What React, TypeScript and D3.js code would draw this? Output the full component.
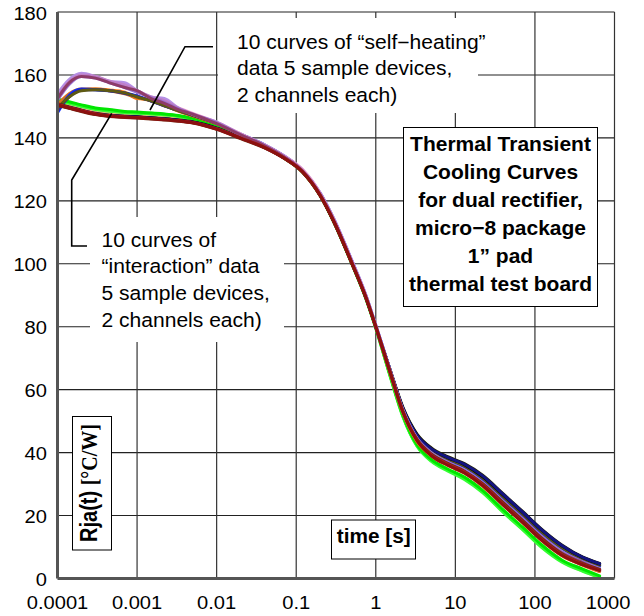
import * as d3 from "d3";

// time axis samples (s) shared by every curve
const TIMES = [1e-4, 1.4e-4, 2e-4, 3e-4, 4.5e-4, 7e-4, 1e-3, 1.5e-3, 2.2e-3, 3.3e-3, 5e-3, 1e-2, 2e-2, 4e-2, 0.07, 0.12, 0.2, 0.3, 0.5, 0.75, 1, 1.5, 2.2, 3.3, 5, 8, 13, 22, 40, 70, 120, 220, 400, 650];

// "self-heating" curves, Rja(t) in °C/W
const SH_LAVENDER = [154, 158.5, 160.5, 159.5, 158, 157.5, 155, 153, 152.5, 149.5, 147.5, 145, 141, 137.5, 134, 129.5, 122, 113.5, 101, 89.5, 80.5, 66.5, 53.5, 44.5, 39.5, 36.5, 34, 30, 24, 18.5, 13, 8, 5, 2.8];
const SH_MAROON = [152.5, 157.5, 159.5, 159, 157.5, 156, 155, 152.5, 151, 149, 147.5, 144.5, 141, 137.5, 134, 129.5, 122, 113.5, 100.5, 89.5, 80, 66, 53, 44, 39.5, 36.5, 34, 30, 24, 18.5, 13, 8, 5, 2.8];
const SH_BLUE = [148, 153.5, 155.5, 155.3, 155, 154.3, 153.3, 151.8, 150.3, 148.8, 147.3, 144.8, 141.2, 137.8, 134.3, 129.8, 122.5, 114, 101, 90, 80.5, 66.5, 53.5, 45, 40.5, 37.8, 35.5, 31.5, 25.5, 20, 14.5, 9.5, 6, 4];
const SH_ORANGE = [150, 153.5, 155.2, 155.5, 155.2, 154.5, 152.5, 152.2, 150.5, 148.5, 147, 144.5, 141, 137.5, 134, 129.5, 122, 113.5, 100.5, 89.5, 80, 65.5, 52.5, 43.5, 39, 36, 33.5, 29.5, 23.5, 17.8, 12.3, 7.3, 4.2, 2.2];
const SH_OLIVE = [149.5, 153, 155, 155.3, 155, 154.3, 153, 151.8, 150.3, 148.7, 147.2, 144.6, 141, 137.6, 134, 129.5, 122, 113.5, 100.5, 89.5, 80, 66, 53.5, 45, 40.7, 38, 35.8, 32, 26, 20.5, 15, 9.8, 6.3, 4.3];
const SH_PINK = [153.5, 158, 160, 159.3, 157.8, 156.5, 154.8, 152.8, 151.5, 149.5, 147.8, 145, 141.3, 137.8, 134.3, 130, 122.5, 114, 101, 90, 80.5, 66, 53, 44, 39.3, 36.3, 33.7, 29.7, 23.7, 18, 12.5, 7.5, 4.5, 2.5];
const SH_VIOLET = [152, 157, 159.5, 159, 157.5, 156, 154.5, 152.8, 151.3, 149.3, 147.5, 144.8, 141, 137.5, 134, 129.5, 122, 113.5, 100.5, 89.5, 80, 66, 53, 44.5, 40, 37, 34.5, 30.5, 24.5, 19, 13.5, 8.5, 5.3, 3.2];
const SH_SIENNA = [150.5, 154, 155.5, 155.5, 155, 154, 152.8, 151.8, 150.2, 148.6, 147, 144.5, 141, 137.5, 134, 129.5, 122, 113.5, 100.5, 89.5, 80, 65.8, 52.8, 43.8, 39, 36, 33.5, 29.3, 23.3, 17.7, 12.2, 7.2, 4.3, 2.3];
const SH_DARKBLUE = [148.5, 153, 155.3, 155.3, 155, 154.2, 153.2, 151.7, 150.2, 148.7, 147.2, 144.7, 141.2, 137.7, 134.2, 129.7, 122.3, 113.8, 100.8, 89.8, 80.3, 66.5, 53.8, 45.3, 40.8, 38, 35.7, 31.8, 25.8, 20.3, 14.8, 9.7, 6.2, 4.2];
const SH_PLUM = [153, 157.8, 160, 159.5, 158, 156.8, 155, 153, 151.8, 149.5, 147.6, 144.9, 141.1, 137.6, 134.1, 129.6, 122.1, 113.6, 100.6, 89.6, 80.1, 66, 53, 44.2, 39.6, 36.6, 34.1, 30.1, 24.1, 18.6, 13.1, 8.1, 5, 2.9];

// "interaction" curves
const IN_GREEN = [152.3, 151.5, 150.5, 149.5, 149, 148.4, 148.2, 147.9, 147.6, 147.1, 146.2, 143.8, 140.6, 137.3, 133.8, 129.3, 121.8, 113.2, 100.2, 89.2, 79.8, 65, 51.8, 42.5, 37.8, 34.8, 32.2, 28, 21.8, 16.3, 10.8, 5.8, 3, 0.8];
const IN_GREEN2 = [152, 151.2, 150.3, 149.3, 148.7, 148.2, 148, 147.8, 147.5, 147, 146, 143.6, 140.5, 137.2, 133.7, 129.2, 121.7, 113, 100, 89, 79.6, 64.8, 51.5, 42.2, 37.5, 34.5, 31.8, 27.6, 21.4, 15.8, 10.3, 5.5, 2.6, 0.5];
const IN_BLACK = [150.5, 149.6, 148.6, 147.6, 147, 146.8, 146.6, 146.3, 146, 145.6, 145, 143, 140, 137, 133.7, 129.3, 121.8, 113.2, 100.2, 89.3, 80, 66.4, 54, 45.6, 41.2, 38.4, 36.2, 32.4, 26.5, 21, 15.5, 10.3, 6.6, 4.6];
const IN_DARKOLIVE = [150.8, 149.8, 148.8, 147.8, 147.2, 146.9, 146.7, 146.4, 146.1, 145.7, 145.1, 143.1, 140.1, 137, 133.7, 129.3, 121.8, 113.3, 100.3, 89.4, 80.1, 66.6, 54.3, 45.9, 41.5, 38.7, 36.5, 32.8, 26.9, 21.3, 15.8, 10.6, 6.8, 4.8];
const IN_DARKRED = [150.5, 149.5, 148.5, 147.5, 146.9, 146.6, 146.4, 146.1, 145.8, 145.4, 144.8, 142.8, 139.9, 136.9, 133.6, 129.2, 121.7, 113.2, 100.2, 89.3, 80, 65.8, 52.8, 43.8, 39, 36, 33.5, 29.5, 23.3, 17.8, 12.3, 7.3, 4.3, 2.5];
const IN_TAN = [151.5, 150.6, 149.6, 148.6, 148, 147.6, 147.4, 147.1, 146.8, 146.4, 145.7, 143.5, 140.4, 137.2, 133.7, 129.2, 121.7, 113.1, 100.1, 89.1, 79.7, 64.9, 51.6, 42.3, 37.5, 34.5, 31.8, 27.5, 21.2, 15.6, 10.1, 5.3, 2.4, 0.2];
const IN_NAVY = [150.6, 149.7, 148.7, 147.7, 147.1, 146.8, 146.6, 146.3, 146, 145.6, 145, 143, 140, 137, 133.7, 129.3, 121.9, 113.4, 100.4, 89.5, 80.2, 66.5, 54, 45.5, 41.2, 38.5, 36.3, 32.6, 26.7, 21.1, 15.6, 10.4, 6.7, 4.7];
const IN_BROWN = [150.3, 149.4, 148.4, 147.4, 146.8, 146.5, 146.3, 146, 145.7, 145.3, 144.7, 142.7, 139.8, 136.8, 133.5, 129.1, 121.6, 113.1, 100.1, 89.2, 79.9, 65.9, 53, 44.2, 39.5, 36.6, 34.1, 30.1, 24, 18.4, 12.9, 7.8, 4.7, 2.9];
const IN_RED = [150.7, 149.7, 148.7, 147.7, 147.1, 146.7, 146.5, 146.2, 145.9, 145.5, 144.9, 142.9, 140, 137, 133.6, 129.2, 121.7, 113.2, 100.2, 89.3, 80, 65.9, 52.9, 44, 39.3, 36.3, 33.8, 29.8, 23.6, 18, 12.5, 7.5, 4.5, 2.6];
const IN_GREEN3 = [151.8, 151, 150, 149, 148.5, 148, 147.8, 147.6, 147.3, 146.8, 145.8, 143.5, 140.4, 137.1, 133.6, 129.1, 121.6, 113, 100, 89, 79.5, 64.6, 51.3, 42, 37.2, 34.2, 31.5, 27.3, 21, 15.5, 10, 5.2, 2.3, 0.4];

const X_TICKS = [1e-4, 1e-3, 1e-2, 0.1, 1, 10, 100, 1000];
const X_TICK_LABELS = ["0.0001", "0.001", "0.01", "0.1", "1", "10", "100", "1000"];
const Y_TICKS = [0, 20, 40, 60, 80, 100, 120, 140, 160, 180];

const SELF_HEATING_NOTE = ["10 curves of \u201cself\u2212heating\u201d", "data 5 sample devices,", "2 channels each)"];
const INTERACTION_NOTE = ["10 curves of", "\u201cinteraction\u201d data", "5 sample devices,", "2 channels each)"];
const TITLE_LINES = ["Thermal Transient", "Cooling Curves", "for dual rectifier,", "micro\u22128 package", "1\u201d pad", "thermal test board"];

// drawing order, back to front
const CURVES: [number[], string][] = [
  [IN_TAN, "#f2b98c"],
  [IN_GREEN2, "#22dd22"],
  [IN_GREEN3, "#33ff33"],
  [IN_GREEN, "#00e600"],
  [SH_ORANGE, "#ff7a10"],
  [SH_SIENNA, "#d8701e"],
  [SH_BLUE, "#1030ff"],
  [SH_DARKBLUE, "#2424a8"],
  [SH_OLIVE, "#5e5a12"],
  [IN_DARKOLIVE, "#2a2a00"],
  [IN_BLACK, "#000000"],
  [IN_NAVY, "#141480"],
  [SH_PINK, "#f0a0c8"],
  [SH_LAVENDER, "#b590e6"],
  [SH_PLUM, "#c080c8"],
  [SH_VIOLET, "#9a70d0"],
  [SH_MAROON, "#8e3b68"],
  [IN_BROWN, "#6e2a10"],
  [IN_RED, "#b01e1e"],
  [IN_DARKRED, "#8b1010"],
];

const SANS = "'Liberation Sans', Arial, Helvetica, sans-serif";
const SERIF = "'Liberation Serif', 'Times New Roman', serif";
const SX = 1.08;

const W = 644;
const H = 616;

function Txt({ x, y, anchor = "start", size, weight = "normal", sx = SX, children }: any) {
  return (
    <text
      transform={`translate(${x},${y}) scale(${sx},1)`}
      textAnchor={anchor}
      fontSize={size}
      fontWeight={weight}
      fontFamily={SANS}
      fill="#000"
    >
      {children}
    </text>
  );
}

const App = () => {
  const xScale = d3.scaleLog().domain([1e-4, 1e3]).range([57.5, 614.5]);
  const yScale = d3.scaleLinear().domain([0, 180]).range([578.5, 12]);

  const line = d3
    .line<number>()
    .x((_, i) => xScale(TIMES[i]))
    .y((v) => yScale(v))
    .curve(d3.curveMonotoneX);

  const x0 = xScale.range()[0];
  const x1 = xScale.range()[1];
  const yb = yScale(0);
  const yt = yScale(180);

  return (
    <div style={{ position: "absolute", left: 0, top: 0 }}>
      <svg width={W} height={H} style={{ display: "block", background: "#fff" }}>
        {/* grid */}
        {Y_TICKS.slice(1).map((v) => (
          <line key={"gy" + v} x1={x0} x2={x1} y1={yScale(v)} y2={yScale(v)} stroke="#222" strokeWidth={1.1} />
        ))}
        {X_TICKS.slice(1).map((t) => (
          <line key={"gx" + t} x1={xScale(t)} x2={xScale(t)} y1={yt} y2={yb} stroke="#333" strokeWidth={1.2} />
        ))}

        {/* curves */}
        {CURVES.map(([vals, color], i) => (
          <path
            key={"c" + i}
            d={line(vals) || ""}
            fill="none"
            stroke={color}
            strokeWidth={3}
            strokeLinejoin="round"
            strokeLinecap="round"
          />
        ))}

        {/* axes */}
        <line x1={x0} x2={x0} y1={yt} y2={yb} stroke="#555" strokeWidth={3} />
        <line x1={x0} x2={x1} y1={yb} y2={yb} stroke="#555" strokeWidth={3} />

        {/* tick labels */}
        {Y_TICKS.map((v) => (
          <Txt key={"yl" + v} x={47} y={yScale(v) + 7.5} anchor="end" size={19} sx={1.06}>
            {v}
          </Txt>
        ))}
        {X_TICKS.map((t, i) => (
          <Txt
            key={"xl" + t}
            x={i === X_TICKS.length - 1 ? xScale(t) + 16 : xScale(t)}
            y={609}
            anchor={i === X_TICKS.length - 1 ? "end" : "middle"}
            size={19}
            sx={1.06}
          >
            {X_TICK_LABELS[i]}
          </Txt>
        ))}

        {/* self-heating note */}
        <rect x={218} y={18} width={260} height={95} fill="#fff" />
        <polyline points="213,46.7 185,46.7 150,110" fill="none" stroke="#000" strokeWidth={1.6} />
        {SELF_HEATING_NOTE.map((s, i) => (
          <Txt key={"sh" + i} x={237} y={48.5 + i * 26.5} size={19.5}>
            {s}
          </Txt>
        ))}

        {/* interaction note */}
        <rect x={90} y={217} width={194} height={125} fill="#fff" />
        <polyline points="111.7,113.3 71.7,180 71.7,246 87,246" fill="none" stroke="#000" strokeWidth={1.6} />
        {INTERACTION_NOTE.map((s, i) => (
          <Txt key={"in" + i} x={101.5} y={246.5 + i * 26.7} size={19.5}>
            {s}
          </Txt>
        ))}

        {/* title box */}
        <rect x={403.5} y={127.5} width={194} height={179} fill="#fff" stroke="#000" strokeWidth={1} />
        {TITLE_LINES.map((s, i) => (
          <Txt key={"tt" + i} x={500.5} y={151 + i * 28} anchor="middle" size={20} weight="bold" sx={1.05}>
            {s}
          </Txt>
        ))}

        {/* y label */}
        <rect x={72.5} y={416.5} width={39} height={133.5} fill="#fff" stroke="#000" strokeWidth={1} />
        <text
          transform="translate(97,483) rotate(-90) scale(1,1.15)"
          textAnchor="middle"
          fontSize={20}
          fontWeight="bold"
          fill="#000"
        >
          <tspan fontFamily={SANS}>Rja(t) </tspan>
          <tspan fontFamily={SERIF}>[°C/W]</tspan>
        </text>

        {/* x label */}
        <rect x={331.5} y={520} width={84} height={39} fill="#fff" stroke="#000" strokeWidth={1} />
        <Txt x={373.7} y={543} anchor="middle" size={20} weight="bold" sx={1.04}>
          time [s]
        </Txt>
      </svg>
    </div>
  );
};

export default App;
